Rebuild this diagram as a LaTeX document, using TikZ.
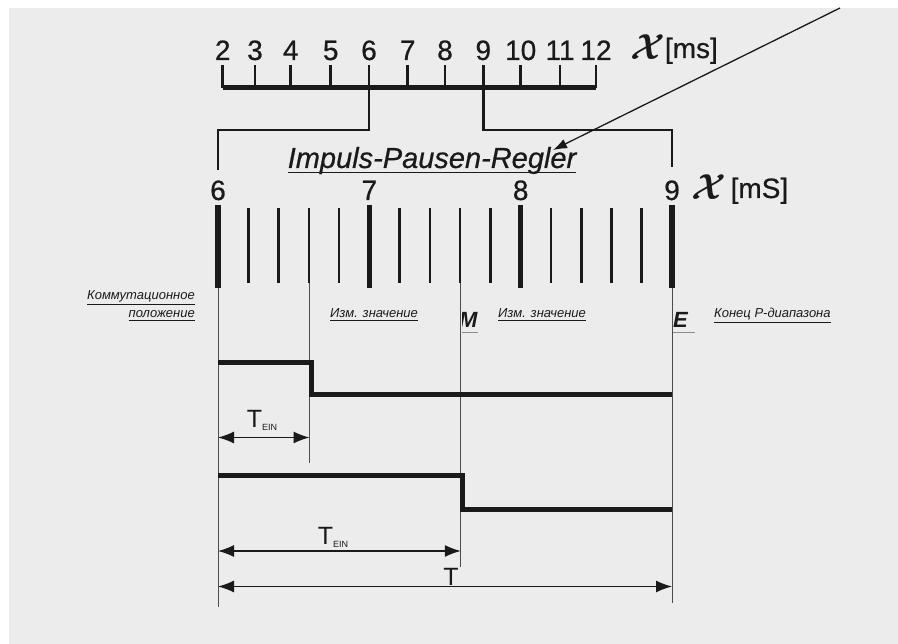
\documentclass[tikz,border=0pt]{standalone}
\usepackage{amsmath, amssymb}
\usepackage{fontspec}
\setmainfont{Liberation Sans}
\newfontfamily\scanfont[FakeBold=0.6]{Liberation Sans}
\usepackage{xcolor}
\usepackage{tikz}
\usetikzlibrary{arrows.meta, positioning, calc}
\definecolor{paper}{HTML}{ECECEC}
\definecolor{ink}{HTML}{1A1A1A}
\newcommand{\chisym}{\raisebox{-2pt}{\scalebox{1.45}{\boldmath$\mathcal{X}$}}}

\begin{document}
\begin{tikzpicture}[x=1pt, y=-1pt,
    num/.style={anchor=base, font=\fontsize{28}{28}\scanfont, text=ink, inner sep=0pt},
    note/.style={anchor=base west, font=\fontsize{13}{18}\selectfont\itshape, text=ink, inner sep=0pt},
    signal/.style={line width=5pt, ink, line join=miter},
    guide/.style={line width=1pt, black!70},
    dim/.style={line width=1.2pt, ink, {Latex[length=16pt,width=12pt]}-{Latex[length=16pt,width=12pt]}}]
    \useasboundingbox (0,0) rectangle (898,644);
    \fill[white] (0,0) rectangle (898,644);
    \fill[paper] (9,8) rectangle (898,644);
    % Top scale (uneven)
    \draw[line width=5pt, ink] (222.7,88) -- (596,88);
    \foreach \v/\x in {2/222.7, 3/255, 4/290.7, 5/330.7, 6/369, 7/407.7, 8/445, 9/483.3, 10/520.7, 11/560, 12/596} {
        \draw[line width=2.8pt, ink] (\x,65) -- (\x,88);
        \node[num] (top\v) at (\x,60) {\v};
    }
    \node[anchor=base west, font=\fontsize{28}{28}\scanfont, text=ink, inner sep=0pt] (topunit) at (630,58)
        {\chisym[ms]};
    % Links to lower scale
    \draw[line width=2.5pt, ink, line join=miter] (369,88) -- (369,130) -| (218,170);
    \draw[line width=2.5pt, ink, line join=miter] (483.3,88) -- (483.3,130) -| (672,167);
    % Title
    \node[font=\fontsize{29}{29}\scanfont\itshape, text=ink, inner sep=0pt, anchor=base] (title) at (432,168)
        {Impuls-Pausen-Regler};
    \draw[line width=1.3pt, ink] ([yshift=-4.5pt]title.base west) -- ([yshift=-4.5pt]title.base east);
    \coordinate (from) at (840,8);
    \draw[-{Latex[length=14pt,width=10pt]}, line width=1.3pt, ink] (from) -- (553,150);
    % Lower scale 6..9
    \foreach \v/\i in {6/0, 7/5, 8/10, 9/15} {
        \node[num] (low\v) at ({218+\i*30.27},200) {\v};
    }
    \node[anchor=base west, font=\fontsize{28}{28}\scanfont, text=ink, inner sep=0pt] (lowunit) at (691,198)
        {\chisym\,[mS]};
    \foreach \i in {0,...,15} {
        \pgfmathtruncatemacro{\m}{mod(\i,5)}
        \ifnum\m=0
            \draw[line width=5.5pt, ink] ({218+\i*30.27},205) -- ({218+\i*30.27},288);
        \else
            \draw[line width=2.6pt, ink] ({218+\i*30.27},208) -- ({218+\i*30.27},283);
        \fi
    }
    % Guide lines
    \draw[guide] (218,288) -- (218,607);
    \draw[guide] (309.5,283) -- (309.5,463);
    \draw[guide] (460.8,283) -- (460.8,567);
    \draw[guide] (672,288) -- (672,603);
    % Notes
    \node[note, anchor=base east, align=right] (switch) at (195,318)
        {\underline{Коммутационное}\\\underline{положение}};
    \node[note] (meas1) at (330,318) {\underline{Изм. значение}};
    \node[note] (meas2) at (498,318) {\underline{Изм. значение}};
    \node[note] (rangeend) at (714,318) {\underline{Конец Р-диапазона}};
    % Cut-off letters
    \begin{scope}
        \clip (462,306) rectangle (478,330);
        \node[anchor=base west, inner sep=0pt, font=\fontsize{22}{22}\selectfont\bfseries\itshape, text=ink] (cutm) at (459,328) {M};
    \end{scope}
    \begin{scope}
        \clip (673,306) rectangle (695,330);
        \node[anchor=base west, inner sep=0pt, font=\fontsize{22}{22}\selectfont\bfseries\itshape, text=ink] (cute) at (673,328) {E};
    \end{scope}
    \draw[black!45, line width=0.8pt] (462,332) -- (478,332);
    \draw[black!45, line width=0.8pt] (673,332) -- (695,332);
    % Signals
    \draw[signal] (218,362.5) -| (311,395) -- (672,395);
    \draw[signal] (218,476) -| (462,510) -- (672,510);
    % Dimensions
    \coordinate (a0) at (218,437.5);
    \coordinate (a1) at (309.5,437.5);
    \draw[dim] (a0) -- (a1);
    \node[anchor=base, inner sep=0pt, text=ink] (tein1) at (262,428)
        {\fontsize{25}{25}\selectfont T\raisebox{-3pt}{\fontsize{9}{9}\selectfont EIN}};
    \coordinate (b0) at (218,551);
    \coordinate (b1) at (460.8,551);
    \draw[dim] (b0) -- (b1);
    \node[anchor=base, inner sep=0pt, text=ink] (tein2) at (333,544)
        {\fontsize{25}{25}\selectfont T\raisebox{-3pt}{\fontsize{9}{9}\selectfont EIN}};
    \coordinate (c0) at (218,586.5);
    \coordinate (c1) at (672,586.5);
    \draw[dim] (c0) -- (c1);
    \node[anchor=base, inner sep=0pt, text=ink, font=\fontsize{25}{25}\selectfont] (tfull) at (451,585) {T};
\end{tikzpicture}
\end{document}
